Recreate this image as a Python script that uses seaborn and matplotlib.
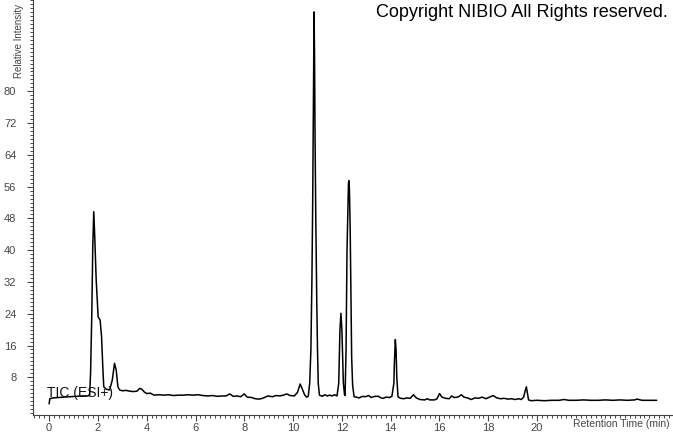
import numpy as np
import pandas as pd
import matplotlib
matplotlib.use("Agg")
import matplotlib.pyplot as plt
import seaborn as sns
from matplotlib.ticker import MultipleLocator, FixedLocator

time_min = [
    0.0, 0.03, 0.15, 0.35, 0.6, 0.85, 1.1, 1.35, 1.55, 1.66,
    1.70, 1.75, 1.79, 1.83, 1.87, 1.93, 2.01, 2.09, 2.15, 2.20,
    2.24, 2.34, 2.48, 2.59, 2.68, 2.75, 2.82, 2.89, 3.0, 3.15,
    3.3, 3.45, 3.6, 3.71, 3.8, 3.9, 4.0, 4.15, 4.3, 4.5,
    4.7, 4.9, 5.1, 5.3, 5.5, 5.7, 5.9, 6.1, 6.3, 6.5,
    6.7, 6.9, 7.1, 7.25, 7.4, 7.55, 7.7, 7.85, 8.0, 8.12,
    8.3, 8.45, 8.6, 8.75, 8.97, 9.15, 9.3, 9.45, 9.6, 9.74,
    9.88, 10.05, 10.18, 10.29, 10.38, 10.47, 10.55, 10.62, 10.68, 10.73,
    10.77, 10.80, 10.82, 10.84, 10.86, 10.88, 10.90, 10.93, 10.97, 11.0,
    11.03, 11.08, 11.2, 11.3, 11.4, 11.5, 11.6, 11.7, 11.8, 11.87,
    11.92, 11.96, 12.0, 12.06, 12.11, 12.13, 12.17, 12.21, 12.24, 12.27,
    12.29, 12.31, 12.34, 12.37, 12.40, 12.44, 12.5, 12.6, 12.7, 12.85,
    12.96, 13.1, 13.2, 13.35, 13.5, 13.6, 13.7, 13.8, 13.95, 14.05,
    14.13, 14.15, 14.19, 14.22, 14.25, 14.3, 14.4, 14.55, 14.65, 14.8,
    14.93, 15.05, 15.2, 15.4, 15.5, 15.6, 15.8, 15.9, 16.0, 16.1,
    16.25, 16.4, 16.5, 16.6, 16.75, 16.9, 17.0, 17.15, 17.3, 17.45,
    17.6, 17.75, 17.9, 18.05, 18.2, 18.35, 18.5, 18.65, 18.8, 18.95,
    19.1, 19.25, 19.35, 19.45, 19.52, 19.56, 19.6, 19.65, 19.75, 20.0,
    20.3, 20.6, 20.9, 21.1, 21.3, 21.6, 21.9, 22.2, 22.5, 22.8,
    23.1, 23.4, 23.7, 24.0, 24.1, 24.3, 24.6, 24.9,
]
intensity = [
    1.3, 2.6, 2.8, 2.9, 3.0, 3.1, 3.2, 3.3, 3.3, 3.4,
    9.0, 24.0, 41.0, 49.7, 43.4, 32.5, 23.2, 22.4, 18.2, 10.7,
    5.6, 5.0, 4.8, 7.3, 11.5, 9.8, 5.6, 4.8, 4.6, 4.7,
    4.5, 4.4, 4.5, 5.2, 5.0, 4.3, 3.9, 4.0, 3.5, 3.6,
    3.5, 3.6, 3.4, 3.5, 3.5, 3.6, 3.5, 3.6, 3.4, 3.3,
    3.4, 3.2, 3.3, 3.3, 3.8, 3.2, 3.3, 3.1, 3.8, 3.0,
    2.9, 2.6, 2.5, 2.7, 3.3, 3.1, 3.4, 3.3, 3.5, 3.8,
    3.4, 3.3, 4.2, 6.3, 5.0, 3.6, 3.0, 3.2, 6.5, 15.0,
    32.0, 50.0, 68.0, 88.0, 100.0, 88.0, 68.0, 48.0, 27.0, 15.0,
    6.5, 3.5, 3.2, 3.6, 3.3, 3.5, 3.3, 3.6, 3.3, 6.5,
    19.9, 24.1, 20.0, 6.5, 3.5, 3.4, 14.9, 40.0, 48.5, 57.0,
    57.5, 55.0, 45.0, 28.0, 13.0, 6.0, 3.1, 3.0, 2.8, 3.2,
    3.1, 3.4, 2.9, 3.2, 3.2, 2.8, 2.7, 3.0, 2.9, 3.2,
    6.5, 11.4, 17.5, 14.9, 8.0, 3.1, 2.7, 2.6, 2.8, 2.7,
    3.6, 2.8, 2.4, 2.3, 2.6, 2.3, 2.3, 2.6, 3.9, 3.0,
    2.7, 2.6, 3.3, 2.9, 3.0, 3.6, 3.0, 2.8, 2.4, 2.8,
    2.7, 3.0, 2.6, 3.0, 3.4, 2.8, 2.6, 2.7, 2.5, 2.6,
    2.4, 2.6, 2.4, 3.0, 4.8, 5.6, 4.2, 2.3, 2.1, 2.2,
    2.1, 2.2, 2.2, 2.4, 2.2, 2.2, 2.3, 2.2, 2.2, 2.3,
    2.2, 2.3, 2.2, 2.3, 2.5, 2.2, 2.2, 2.2,
]

x_labels = [0, 2, 4, 6, 8, 10, 12, 14, 16, 18, 20]
y_labels = [8, 16, 24, 32, 40, 48, 56, 64, 72, 80]

df = pd.DataFrame({"time": time_min, "intensity": intensity})

W, H = 673, 433
sns.set_style("ticks")
plt.rcParams["font.family"] = ["Liberation Sans", "DejaVu Sans"]

fig = plt.figure(figsize=(W / 100, H / 100), dpi=100)
ax = fig.add_axes([33 / W, (H - 415) / H, 1 - 33 / W, 415 / H])

sns.lineplot(data=df, x="time", y="intensity", ax=ax, color="black",
             linewidth=1.1, estimator=None, sort=False)

ax.set_xlim(-0.66, 25.57)
ax.set_ylim(-1.5, 103)
ax.set_xlabel("")
ax.set_ylabel("")

ax.xaxis.set_major_locator(FixedLocator(x_labels))
ax.xaxis.set_minor_locator(MultipleLocator(0.2))
ax.yaxis.set_major_locator(FixedLocator(y_labels))
ax.yaxis.set_minor_locator(MultipleLocator(1))

ax.tick_params(axis="both", which="major", length=4, width=0.8, color="#444444",
               labelsize=8, labelcolor="#444444")
ax.tick_params(axis="y", which="major", pad=8)
ax.tick_params(axis="x", which="major", pad=2)
ax.tick_params(axis="both", which="minor", length=2.5, width=0.7, color="#444444")

for side in ["top", "right"]:
    ax.spines[side].set_visible(False)
for side in ["left", "bottom"]:
    ax.spines[side].set_color("#444444")
    ax.spines[side].set_linewidth(0.8)

fig.text(19 / W, 1 - 78 / H, "Relative Intensity", rotation=90, ha="center",
         va="bottom", fontsize=7, color="#444444")
fig.text(670 / W, 1 - 424 / H, "Retention Time (min)", ha="right", va="center",
         fontsize=7.5, color="#444444")
fig.text(376 / W, 1 - 4 / H, "Copyright NIBIO All Rights reserved.", ha="left",
         va="top", fontsize=13, color="black")
ax.text(47 / W, 1 - 393 / H, "TIC (ESI+)", transform=fig.transFigure,
        ha="left", va="center", fontsize=10, color="#111111")

fig.savefig("out.png", dpi=100)
